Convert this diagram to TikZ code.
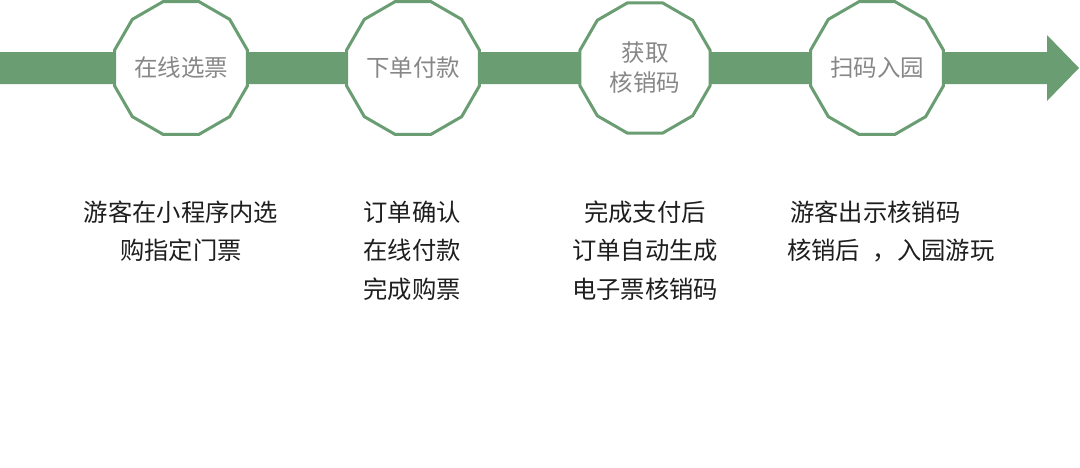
\documentclass[tikz,border=0pt]{standalone}
\usepackage{fontspec}
\newfontfamily\cjk{Noto Sans CJK SC}
\usetikzlibrary{shapes.geometric}
\definecolor{barGreen}{RGB}{106,158,114}
\definecolor{labelGray}{RGB}{135,135,135}
\definecolor{bodyText}{RGB}{30,30,30}
\tikzset{
  stage/.style={regular polygon, regular polygon sides=12, minimum size=135pt, inner sep=0pt,
    draw=barGreen, line width=3pt, fill=white, text=labelGray,
    font=\cjk\fontsize{23.5}{30}\selectfont, align=center},
  desc/.style={anchor=north, inner sep=0pt, text=bodyText,
    font=\cjk\fontsize{24.3}{38.5}\selectfont, align=center},
}
\begin{document}
\begin{tikzpicture}[x=1pt,y=-1pt]
\useasboundingbox[fill=white] (0,0) rectangle (1080,467);
% arrow band
\fill[barGreen] (0,52) -- (1047,52) -- (1047,35) -- (1079,68) -- (1047,101) -- (1047,84) -- (0,84) -- cycle;
% stages
\node[stage] (s1) at (181,68) {在线选票};
\node[stage] (s2) at (413,68) {下单付款};
\node[stage] (s3) at (645,68) {获取\\核销码};
\node[stage] (s4) at (877,68) {扫码入园};
% descriptions
\node[desc] (d1) at (181,200.5) {游客在小程序内选\\购指定门票};
\node[desc] (d2) at (412,200.5) {订单确认\\在线付款\\完成购票};
\node[desc] (d3) at (645,200.5) {完成支付后\\订单自动生成\\电子票核销码};
\node[desc, anchor=north west, align=left] (d4) at (787,200.5) {\hspace{3pt}游客出示核销码\\核销后\hspace{12pt}，\hspace{1pt}入园游玩};
\end{tikzpicture}
\end{document}
